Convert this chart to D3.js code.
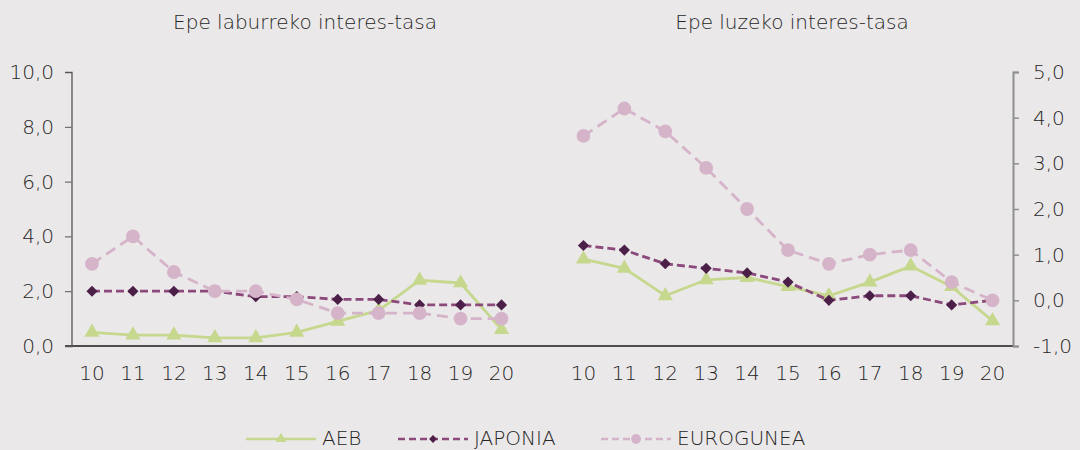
<!DOCTYPE html>
<html>
<head>
<meta charset="utf-8">
<script src="https://cdn.jsdelivr.net/npm/d3@7"></script>
<style>
  body { margin: 0; background: #ebe8e9; }
  svg { display: block; }
  text { font-family: "DejaVu Sans", sans-serif; font-weight: 200; fill: #262626; }
</style>
</head>
<body>
<svg id="chart" width="1080" height="450"></svg>
<script>
var years = ["10", "11", "12", "13", "14", "15", "16", "17", "18", "19", "20"];

// Epe laburreko interes-tasa (left axis)
var shortAEB  = [0.5, 0.4, 0.4, 0.3, 0.3, 0.5, 0.9, 1.3, 2.4, 2.3, 0.6];
var shortJAP  = [2.0, 2.0, 2.0, 2.0, 1.8, 1.8, 1.7, 1.7, 1.5, 1.5, 1.5];
var shortEURO = [3.0, 4.0, 2.7, 2.0, 2.0, 1.7, 1.2, 1.2, 1.2, 1.0, 1.0];

// Epe luzeko interes-tasa (right axis)
var longAEB  = [0.9, 0.7, 0.1, 0.45, 0.5, 0.3, 0.1, 0.4, 0.75, 0.3, -0.45];
var longJAP  = [1.2, 1.1, 0.8, 0.7, 0.6, 0.4, 0.0, 0.1, 0.1, -0.1, 0.0];
var longEURO = [3.6, 4.2, 3.7, 2.9, 2.0, 1.1, 0.8, 1.0, 1.1, 0.4, 0.0];

var leftTicks = [0, 2, 4, 6, 8, 10];
var rightTicks = [-1, 0, 1, 2, 3, 4, 5];
var titles = ["Epe laburreko interes-tasa", "Epe luzeko interes-tasa"];
var seriesNames = ["AEB", "JAPONIA", "EUROGUNEA"];

var diamond = {
  draw: function (ctx, size) {
    var r = Math.sqrt(size / 2);
    ctx.moveTo(0, -r); ctx.lineTo(r, 0); ctx.lineTo(0, r); ctx.lineTo(-r, 0); ctx.closePath();
  }
};

var styles = {
  AEB:       { line: "#c6d88e", marker: "#c6d88e", dash: null,   symbol: d3.symbolTriangle, size: 100 },
  JAPONIA:   { line: "#8c4a7c", marker: "#4b1f48", dash: "8,4",  symbol: diamond,           size: 62 },
  EUROGUNEA: { line: "#d5b4c9", marker: "#d5b4c9", dash: "11,6", symbol: d3.symbolCircle,   size: 150 }
};

var svg = d3.select("#chart");
var plotTop = 72, plotBottom = 346;
// comma decimals, plain hyphen for the minus sign
var fmt = function (v) { return d3.format(".1f")(v).replace(".", ",").replace("\u2212", "-"); };

var xLeft = d3.scaleBand().domain(years).range([71.5, 522]);
var xRight = d3.scaleBand().domain(years).range([563, 1013]);
var yLeft = d3.scaleLinear().domain([0, 10]).range([plotBottom, plotTop]);
var yRight = d3.scaleLinear().domain([-1, 5]).range([plotBottom, plotTop]);

// baseline across both panels
svg.append("line")
    .attr("x1", xLeft.range()[0] - 6.5).attr("x2", xRight.range()[1])
    .attr("y1", plotBottom).attr("y2", plotBottom)
    .attr("stroke", "#1a1a1a").attr("stroke-width", 1.3);

// left y axis
var gL = svg.append("g").attr("transform", "translate(" + xLeft.range()[0] + ",0)")
    .call(d3.axisLeft(yLeft).tickValues(leftTicks).tickFormat(fmt).tickSize(6.5).tickPadding(11));
gL.select(".domain").attr("stroke", "#555").attr("stroke-width", 1.3);
gL.selectAll(".tick line").attr("stroke", "#555");
gL.selectAll(".tick text").style("font-size", "20px").attr("fill", "#262626");

// right y axis
var gR = svg.append("g").attr("transform", "translate(" + xRight.range()[1] + ",0)")
    .call(d3.axisRight(yRight).tickValues(rightTicks).tickFormat(fmt).tickSize(6).tickPadding(14));
gR.select(".domain").attr("stroke", "#8f8f8f").attr("stroke-width", 2);
gR.selectAll(".tick line").attr("stroke", "#8f8f8f").attr("stroke-width", 1.5);
gR.selectAll(".tick text").style("font-size", "20px").attr("fill", "#262626");

// x axes (labels only)
[xLeft, xRight].forEach(function (x) {
  var g = svg.append("g").attr("transform", "translate(0," + plotBottom + ")")
      .call(d3.axisBottom(x).tickSize(0).tickPadding(20));
  g.select(".domain").remove();
  g.selectAll(".tick text").style("font-size", "20px").attr("fill", "#262626");
});

// titles
svg.append("text").attr("x", 305).attr("y", 29).attr("text-anchor", "middle")
    .style("font-size", "20px").text(titles[0]);
svg.append("text").attr("x", 792).attr("y", 29).attr("text-anchor", "middle")
    .style("font-size", "20px").text(titles[1]);

function drawSeries(x, y, values, name) {
  var st = styles[name];
  var g = svg.append("g").attr("class", "series");
  var cx = function (i) { return x(years[i]) + x.bandwidth() / 2; };
  var line = d3.line()
      .x(function (d, i) { return cx(i); })
      .y(function (d) { return y(d); });
  g.append("path")
      .datum(values)
      .attr("d", line)
      .attr("fill", "none")
      .attr("stroke", st.line)
      .attr("stroke-width", 2.8)
      .attr("stroke-dasharray", st.dash);
  g.selectAll("path.m")
      .data(values)
    .enter().append("path")
      .attr("class", "m")
      .attr("d", d3.symbol().type(st.symbol).size(st.size))
      .attr("transform", function (d, i) { return "translate(" + cx(i) + "," + y(d) + ")"; })
      .attr("fill", st.marker);
}

drawSeries(xLeft, yLeft, shortAEB, "AEB");
drawSeries(xLeft, yLeft, shortJAP, "JAPONIA");
drawSeries(xLeft, yLeft, shortEURO, "EUROGUNEA");
drawSeries(xRight, yRight, longAEB, "AEB");
drawSeries(xRight, yRight, longJAP, "JAPONIA");
drawSeries(xRight, yRight, longEURO, "EUROGUNEA");

// legend
var legendX = [246, 398, 601];
var legend = svg.append("g").attr("class", "legend");
seriesNames.forEach(function (name, i) {
  var st = styles[name];
  var lg = legend.append("g").attr("transform", "translate(" + legendX[i] + ",439)");
  lg.append("line").attr("x1", 0).attr("x2", 70).attr("y1", 0).attr("y2", 0)
      .attr("stroke", st.line).attr("stroke-width", 2.4)
      .attr("stroke-dasharray", name === "AEB" ? null : "7,4");
  lg.append("path")
      .attr("d", d3.symbol().type(st.symbol).size(st.size * 0.5))
      .attr("transform", "translate(35,0)")
      .attr("fill", st.marker);
  lg.append("text").attr("x", 76).attr("y", 6)
      .style("font-size", "20px").text(name);
});
</script>
</body>
</html>
